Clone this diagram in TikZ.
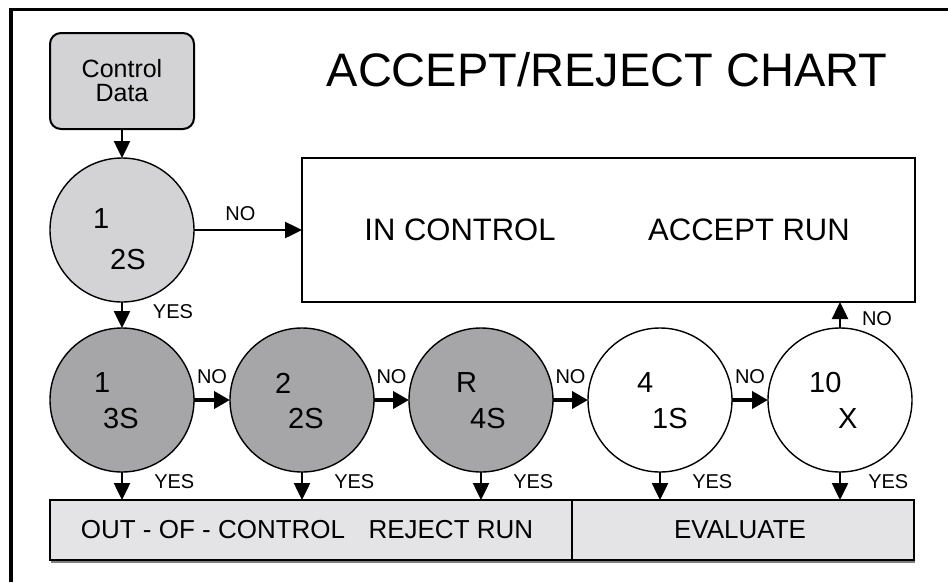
\documentclass[tikz,border=0pt]{standalone}
\usepackage{fontspec}
\setmainfont{Liberation Sans}
\usetikzlibrary{arrows.meta}
\definecolor{lightgr}{RGB}{211,211,213}
\definecolor{darkgr}{RGB}{166,166,168}
\definecolor{boxgr}{RGB}{228,228,230}
\tikzset{
  decision/.style={circle,draw=black,line width=1.4pt,minimum size=144pt,inner sep=0pt,outer sep=0pt},
  flowarrow/.style={line width=2.5pt,-{Triangle[length=17pt,width=16pt]}},
  thickarrow/.style={line width=3.8pt,-{Triangle[length=16pt,width=17pt]}},
  lbl/.style={font=\fontsize{20}{20}\selectfont,inner sep=0pt},
  ctext/.style={font=\fontsize{29}{29}\selectfont,inner sep=0pt,anchor=west},
  btext/.style={font=\fontsize{26}{26}\selectfont,inner sep=0pt},
  ttext/.style={font=\fontsize{31}{31}\selectfont,inner sep=0pt},
  panel/.style={draw=black,line width=2pt,inner sep=0pt,outer sep=0pt},
}
\begin{document}
\begin{tikzpicture}[x=1pt,y=-1pt]
\useasboundingbox (0,0) rectangle (948,582);
% frame
\draw[line width=3.5pt] (11,582) -- (11,9.5) -- (948,9.5);
% title
\node[font=\fontsize{47}{47}\selectfont,inner sep=0pt] (title) at (607,70) {ACCEPT/REJECT CHART};
% control data
\node[panel,fill=lightgr,rounded corners=11pt,minimum width=144pt,minimum height=96pt,
  align=center,font=\fontsize{25}{24}\selectfont] (cd) at (122,81) {Control\\Data};
% top circle
\node[decision,fill=lightgr] (c0) at (122,230) {};
\node[ctext] (c0a) at (93,219) {1};
\node[ctext] (c0b) at (110,260) {2S};
% accept box
\node[panel,fill=white,minimum width=613pt,minimum height=144pt] (acc) at (608.5,230) {};
\node[ttext] (inc) at (460,230) {IN CONTROL};
\node[ttext] (accr) at (749,230) {ACCEPT RUN};
% row circles
\node[decision,fill=darkgr] (r1) at (122,400) {};
\node[decision,fill=darkgr] (r2) at (302,400) {};
\node[decision,fill=darkgr] (r3) at (481,400) {};
\node[decision,fill=white] (r4) at (660,400) {};
\node[decision,fill=white] (r5) at (840,400) {};
\node[ctext] (r1a) at (94,383) {1};
\node[ctext] (r1b) at (103,419) {3S};
\node[ctext] (r2a) at (275,383) {2};
\node[ctext] (r2b) at (288,419) {2S};
\node[ctext] (r3a) at (456,383) {R};
\node[ctext] (r3b) at (470,419) {4S};
\node[ctext] (r4a) at (637,383) {4};
\node[ctext] (r4b) at (652,419) {1S};
\node[ctext] (r5a) at (809,383) {10};
\node[ctext] (r5b) at (838,419) {X};
% bottom boxes
\fill[gray] (51,560) rectangle (915,562.5);
\node[panel,fill=boxgr,minimum width=522pt,minimum height=60pt] (ooc) at (311,530) {};
\node[panel,fill=boxgr,minimum width=342pt,minimum height=60pt] (eval) at (743,530) {};
\node[btext] (ooct) at (307,530) {OUT - OF - CONTROL\hspace{0.9em}REJECT RUN};
\node[btext] (evalt) at (740,530) {EVALUATE};
% arrows
\draw[flowarrow] (cd.south) -- (c0.north);
\draw[flowarrow] (c0.east) -- (acc.west) node[lbl,pos=0.43,above=8pt] {NO};
\draw[flowarrow] (c0.south) -- (r1.north);
\node[lbl] (y0) at (173,312) {YES};
\draw[thickarrow] (r1.east) -- (r2.west) node[lbl,midway,above=14pt] {NO};
\draw[thickarrow] (r2.east) -- (r3.west) node[lbl,midway,above=14pt] {NO};
\draw[thickarrow] (r3.east) -- (r4.west) node[lbl,midway,above=14pt] {NO};
\draw[thickarrow] (r4.east) -- (r5.west) node[lbl,midway,above=14pt] {NO};
\draw[flowarrow] (r5.north) -- (r5.north |- acc.south);
\node[lbl] (n5) at (877,319) {NO};
\foreach \r in {r1,r2,r3,r4} {
  \draw[flowarrow] (\r.south) -- (\r.south |- ooc.north) node[lbl,pos=0.35,right=31pt] {YES};
}
\draw[flowarrow] (r5.south) -- (r5.south |- eval.north) node[lbl,pos=0.35,right=27pt] {YES};
\end{tikzpicture}
\end{document}
